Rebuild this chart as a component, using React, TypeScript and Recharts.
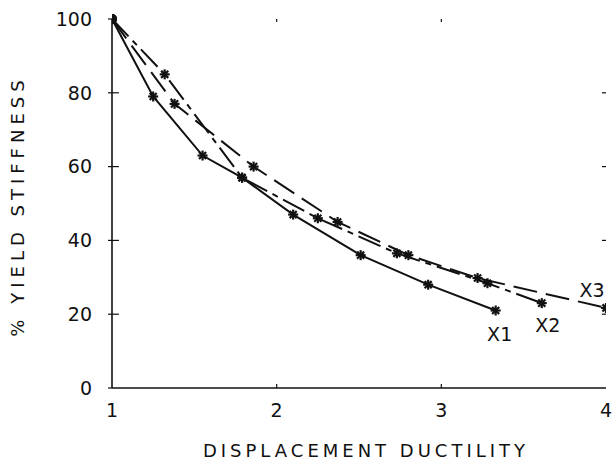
import { LineChart, Line, XAxis, YAxis, ReferenceLine } from "recharts";

// Stiffness degradation vs displacement ductility, three specimens.
const x1Ductility = [1, 1.25, 1.55, 1.79, 2.1, 2.51, 2.92, 3.33];
const x1Stiffness = [100, 79, 63, 57, 47, 36, 28, 21];

const x2Ductility = [1, 1.32, 1.79, 2.25, 2.73, 3.28, 3.61];
const x2Stiffness = [100, 85, 57, 46, 36.5, 28.4, 23];

const x3Ductility = [1, 1.38, 1.86, 2.37, 2.8, 3.22, 4.0];
const x3Stiffness = [100, 77, 60, 45, 36, 29.8, 21.7];

const xTicks = [1, 2, 3, 4];
const yTicks = [0, 20, 40, 60, 80, 100];
const innerXTicks = [2, 3];
const innerYTicks = [20, 40, 60, 80];

const INK = "#111";
const FONT = "'DejaVu Sans', sans-serif";

const toPoints = (xs: number[], ys: number[]) => xs.map((x, i) => ({ x, y: ys[i] }));

const x1Data = toPoints(x1Ductility, x1Stiffness);
const x2Data = toPoints(x2Ductility, x2Stiffness);
const x3Data = toPoints(x3Ductility, x3Stiffness);

// asterisk marker; first point is the common yield point (filled dot),
// last point carries the specimen name
function makeStar(name: string, count: number, dx: number, dy: number) {
  return (props: any) => {
    const { cx, cy, index } = props;
    if (cx == null || cy == null) return <g key={index} />;
    if (index === 0) return <circle key={index} cx={cx} cy={cy} r={5} fill={INK} />;
    const r = 5;
    return (
      <g key={index}>
        {[0, 45, 90, 135].map((a) => {
          const rad = (a * Math.PI) / 180;
          return (
            <line
              key={a}
              x1={cx - r * Math.cos(rad)}
              y1={cy - r * Math.sin(rad)}
              x2={cx + r * Math.cos(rad)}
              y2={cy + r * Math.sin(rad)}
              stroke={INK}
              strokeWidth={2.2}
            />
          );
        })}
        {index === count - 1 && (
          <text
            x={cx + dx}
            y={cy + dy}
            textAnchor="middle"
            dominantBaseline="central"
            style={{ fontFamily: FONT, fontSize: 19, fill: INK }}
          >
            {name}
          </text>
        )}
      </g>
    );
  };
}

const axisTick = { fontSize: 19, fill: INK, fontFamily: FONT } as const;
const axisLine = { stroke: INK, strokeWidth: 1.6 } as const;
const noLabel = () => <g />;

export default function App() {
  return (
    <div style={{ position: "absolute", left: 0, top: 0, background: "#fff" }}>
      <LineChart width={612} height={465} margin={{ top: 19, right: 6, bottom: 0, left: 0 }}>
        <XAxis
          xAxisId="b"
          dataKey="x"
          type="number"
          domain={[1, 4]}
          ticks={xTicks}
          height={77}
          tickLine={false}
          tickSize={6}
          tickMargin={10}
          tick={axisTick}
          axisLine={axisLine}
          allowDataOverflow
        />
        <XAxis
          xAxisId="t"
          orientation="top"
          type="number"
          domain={[1, 4]}
          ticks={innerXTicks}
          height={0}
          tickSize={3}
          tick={noLabel}
          tickLine={{ stroke: INK, strokeWidth: 1.2 }}
          axisLine={axisLine}
        />
        <YAxis
          yAxisId="l"
          type="number"
          domain={[0, 100]}
          ticks={yTicks}
          width={112}
          tickSize={4}
          tickMargin={16}
          tick={axisTick}
          tickLine={{ stroke: INK, strokeWidth: 1.2 }}
          axisLine={axisLine}
        />
        <YAxis
          yAxisId="r"
          orientation="right"
          type="number"
          domain={[0, 100]}
          ticks={innerYTicks}
          width={0}
          tickSize={4}
          tick={noLabel}
          tickLine={{ stroke: INK, strokeWidth: 1.2 }}
          axisLine={axisLine}
        />

        {/* inward halves of the frame tick marks */}
        {innerYTicks.map((v) => (
          <ReferenceLine
            key={`l${v}`}
            xAxisId="b"
            yAxisId="l"
            segment={[{ x: 1, y: v }, { x: 1.042, y: v }]}
            stroke={INK}
            strokeWidth={1.2}
          />
        ))}
        {innerYTicks.map((v) => (
          <ReferenceLine
            key={`r${v}`}
            xAxisId="b"
            yAxisId="l"
            segment={[{ x: 4, y: v }, { x: 3.975, y: v }]}
            stroke={INK}
            strokeWidth={1.2}
          />
        ))}
        {innerXTicks.map((v) => (
          <ReferenceLine
            key={`b${v}`}
            xAxisId="b"
            yAxisId="l"
            segment={[{ x: v, y: 0 }, { x: v, y: 1.1 }]}
            stroke={INK}
            strokeWidth={1.2}
          />
        ))}
        {innerXTicks.map((v) => (
          <ReferenceLine
            key={`t${v}`}
            xAxisId="b"
            yAxisId="l"
            segment={[{ x: v, y: 100 }, { x: v, y: 99.2 }]}
            stroke={INK}
            strokeWidth={1.2}
          />
        ))}

        <Line
          xAxisId="b"
          yAxisId="l"
          data={x1Data}
          dataKey="y"
          type="linear"
          stroke={INK}
          strokeWidth={2}
          dot={makeStar("X1", x1Data.length, 4, 23)}
          activeDot={false}
          isAnimationActive={false}
        />
        <Line
          xAxisId="b"
          yAxisId="l"
          data={x2Data}
          dataKey="y"
          type="linear"
          stroke={INK}
          strokeWidth={2}
          strokeDasharray="24 6 6 6"
          dot={makeStar("X2", x2Data.length, 6, 22)}
          activeDot={false}
          isAnimationActive={false}
        />
        <Line
          xAxisId="b"
          yAxisId="l"
          data={x3Data}
          dataKey="y"
          type="linear"
          stroke={INK}
          strokeWidth={2}
          strokeDasharray="24 9"
          dot={makeStar("X3", x3Data.length, -14, -18)}
          activeDot={false}
          isAnimationActive={false}
        />

        <text
          x={366}
          y={450}
          textAnchor="middle"
          dominantBaseline="central"
          style={{ fontFamily: FONT, fontSize: 18, letterSpacing: 4, fill: INK }}
        >
          DISPLACEMENT DUCTILITY
        </text>
        <text
          x={17}
          y={206}
          textAnchor="middle"
          dominantBaseline="central"
          transform="rotate(-90 17 206)"
          style={{ fontFamily: FONT, fontSize: 18, letterSpacing: 5, fill: INK }}
        >
          % YIELD STIFFNESS
        </text>
      </LineChart>
    </div>
  );
}
